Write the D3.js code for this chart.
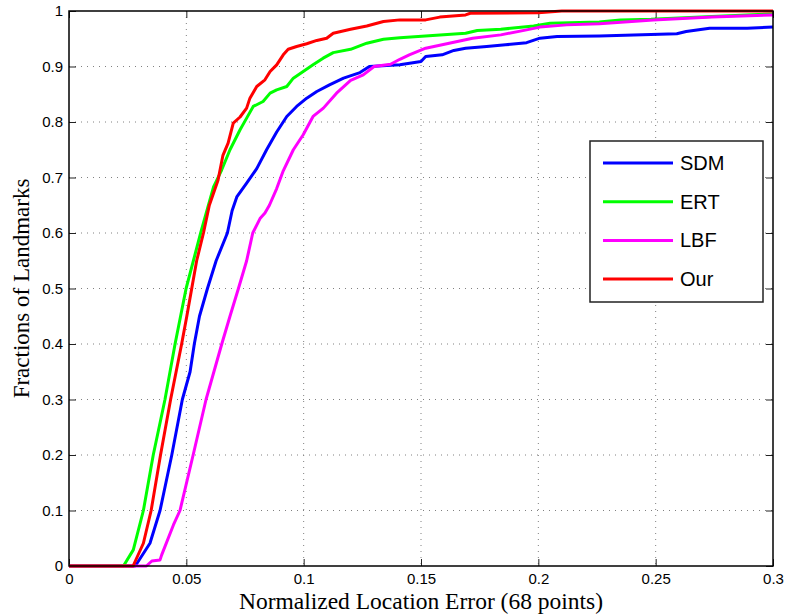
<!DOCTYPE html>
<html>
<head>
<meta charset="utf-8">
<script src="https://cdn.jsdelivr.net/npm/d3@7"></script>
<style>
  body { margin: 0; background: #fff; }
  svg { display: block; }
</style>
</head>
<body>
<svg id="chart"></svg>
<script>

// curves, [error, fraction]
const sdm = [
  [0, 0], [0.028, 0], [0.029, 0.005], [0.0345, 0.041], [0.0388, 0.1], [0.0438, 0.2],
  [0.0483, 0.3], [0.0516, 0.35], [0.0534, 0.4], [0.0556, 0.45], [0.059, 0.5],
  [0.0627, 0.55], [0.0675, 0.6], [0.0695, 0.64], [0.0715, 0.665], [0.0757, 0.69],
  [0.08, 0.716], [0.0842, 0.75], [0.0885, 0.782], [0.0928, 0.81], [0.097, 0.828],
  [0.1013, 0.843], [0.1056, 0.855], [0.111, 0.867], [0.117, 0.879], [0.124, 0.889],
  [0.128, 0.9], [0.141, 0.903], [0.15, 0.909], [0.152, 0.918], [0.159, 0.921],
  [0.164, 0.929], [0.169, 0.933], [0.178, 0.936], [0.186, 0.939], [0.195, 0.943],
  [0.2007, 0.951], [0.208, 0.954], [0.226, 0.955], [0.259, 0.959], [0.263, 0.963],
  [0.273, 0.969], [0.289, 0.969], [0.3, 0.971]
];

const ert = [
  [0, 0], [0.0232, 0], [0.0274, 0.029], [0.0317, 0.1], [0.0359, 0.2], [0.0409, 0.3],
  [0.0452, 0.4], [0.0499, 0.5], [0.0561, 0.6], [0.0616, 0.683], [0.065, 0.713],
  [0.0686, 0.75], [0.0729, 0.786], [0.0757, 0.807], [0.0785, 0.828], [0.0827, 0.837],
  [0.0857, 0.852], [0.0885, 0.858], [0.0928, 0.864], [0.0956, 0.879], [0.0998, 0.891],
  [0.104, 0.903], [0.1083, 0.915], [0.1126, 0.925], [0.12, 0.931], [0.1269, 0.942],
  [0.134, 0.949], [0.141, 0.952], [0.169, 0.96], [0.174, 0.965], [0.184, 0.967],
  [0.198, 0.973], [0.205, 0.978], [0.226, 0.98], [0.235, 0.984], [0.248, 0.985],
  [0.274, 0.99], [0.3, 0.995]
];

const lbf = [
  [0, 0], [0.033, 0], [0.0353, 0.009], [0.0388, 0.011], [0.0395, 0.02], [0.0445, 0.074],
  [0.0473, 0.1], [0.0529, 0.2], [0.0584, 0.3], [0.0651, 0.4], [0.0686, 0.45],
  [0.0722, 0.5], [0.0757, 0.55], [0.0783, 0.6], [0.0814, 0.626], [0.0835, 0.636],
  [0.0854, 0.65], [0.0885, 0.68], [0.0913, 0.712], [0.0956, 0.75], [0.0998, 0.777],
  [0.104, 0.81], [0.1084, 0.825], [0.114, 0.852], [0.12, 0.875], [0.1254, 0.885],
  [0.13, 0.9], [0.137, 0.904], [0.141, 0.913], [0.145, 0.921], [0.152, 0.933],
  [0.162, 0.942], [0.172, 0.951], [0.184, 0.957], [0.195, 0.966], [0.2007, 0.971],
  [0.212, 0.975], [0.226, 0.977], [0.249, 0.984], [0.274, 0.989], [0.3, 0.993]
];

const our = [
  [0, 0], [0.0273, 0], [0.0317, 0.041], [0.035, 0.1], [0.039, 0.2], [0.0433, 0.3],
  [0.048, 0.4], [0.0502, 0.45], [0.0523, 0.5], [0.0544, 0.55], [0.0573, 0.6],
  [0.0598, 0.65], [0.0635, 0.695], [0.0656, 0.74], [0.0678, 0.762], [0.07, 0.798],
  [0.0729, 0.809], [0.0757, 0.825], [0.0771, 0.843], [0.08, 0.864], [0.0835, 0.876],
  [0.0857, 0.891], [0.0885, 0.903], [0.0913, 0.921], [0.0934, 0.931], [0.097, 0.936],
  [0.1013, 0.941], [0.1056, 0.947], [0.1098, 0.951], [0.1126, 0.96], [0.12, 0.967],
  [0.1269, 0.973], [0.134, 0.981], [0.141, 0.984], [0.152, 0.984], [0.158, 0.989],
  [0.169, 0.993], [0.171, 0.996], [0.2, 0.997], [0.21, 1], [0.3, 1]
];

const seriesNames = ['SDM', 'ERT', 'LBF', 'Our'];
const seriesColors = ['#0000ff', '#00ff00', '#ff00ff', '#ff0000'];
const seriesData = [sdm, ert, lbf, our];

const xTicks = [0, 0.05, 0.1, 0.15, 0.2, 0.25, 0.3];
const yTicks = [0, 0.1, 0.2, 0.3, 0.4, 0.5, 0.6, 0.7, 0.8, 0.9, 1];

init();

function init() {
    const W = 787, H = 615;
    const left = 69, right = 773, top = 11, bottom = 566;

    const svg = d3.select('#chart').attr('width', W).attr('height', H);

    const x = d3.scaleLinear().domain([0, 0.3]).range([left, right]);
    const y = d3.scaleLinear().domain([0, 1]).range([bottom, top]);
    const fmt = d => String(d);

    // dotted grid
    const grid = svg.append('g');
    xTicks.slice(1, -1).forEach(d => {
        grid.append('line')
            .attr('x1', x(d)).attr('x2', x(d))
            .attr('y1', top).attr('y2', bottom)
            .attr('stroke', '#808080').attr('stroke-width', 1)
            .attr('stroke-dasharray', '1,5');
    });
    yTicks.slice(1, -1).forEach(d => {
        grid.append('line')
            .attr('x1', left).attr('x2', right)
            .attr('y1', y(d)).attr('y2', y(d))
            .attr('stroke', '#808080').attr('stroke-width', 1)
            .attr('stroke-dasharray', '1,5');
    });

    // axes, ticks pointing inward on all four sides
    const tick = 7;
    const xB = svg.append('g').attr('transform', 'translate(0,' + bottom + ')')
        .call(d3.axisBottom(x).tickValues(xTicks).tickFormat(fmt).tickSizeInner(-tick).tickSizeOuter(0).tickPadding(7));
    const yL = svg.append('g').attr('transform', 'translate(' + left + ',0)')
        .call(d3.axisLeft(y).tickValues(yTicks).tickFormat(fmt).tickSizeInner(-tick).tickSizeOuter(0).tickPadding(6));
    const xT = svg.append('g').attr('transform', 'translate(0,' + top + ')')
        .call(d3.axisTop(x).tickValues(xTicks).tickFormat('').tickSizeInner(-tick).tickSizeOuter(0));
    const yR = svg.append('g').attr('transform', 'translate(' + right + ',0)')
        .call(d3.axisRight(y).tickValues(yTicks).tickFormat('').tickSizeInner(-tick).tickSizeOuter(0));

    [xB, yL, xT, yR].forEach(g => {
        g.select('.domain').remove();
        g.selectAll('line').attr('stroke', '#222').attr('stroke-width', 1);
        g.selectAll('text')
            .attr('fill', '#000')
            .style('font-family', 'Liberation Sans, Arial, sans-serif')
            .style('font-size', '15px');
    });

    // curves
    const line = d3.line().x(d => x(d[0])).y(d => y(d[1]));
    seriesData.forEach((s, i) => {
        svg.append('path')
            .datum(s)
            .attr('fill', 'none')
            .attr('stroke', seriesColors[i])
            .attr('stroke-width', 3)
            .attr('stroke-linejoin', 'round')
            .attr('d', line);
    });

    // box
    svg.append('rect')
        .attr('x', left).attr('y', top)
        .attr('width', right - left).attr('height', bottom - top)
        .attr('fill', 'none').attr('stroke', '#000').attr('stroke-width', 1.5);

    // legend
    const lg = svg.append('g');
    lg.append('rect')
        .attr('x', 590).attr('y', 141).attr('width', 173).attr('height', 161)
        .attr('fill', '#fff').attr('stroke', '#222').attr('stroke-width', 1.5);
    seriesNames.forEach((n, i) => {
        const yy = 163 + i * 38.7;
        lg.append('line')
            .attr('x1', 603).attr('x2', 673).attr('y1', yy).attr('y2', yy)
            .attr('stroke', seriesColors[i]).attr('stroke-width', 3);
        lg.append('text')
            .attr('x', 680).attr('y', yy)
            .attr('dy', '0.35em')
            .style('font-family', 'Liberation Sans, Arial, sans-serif')
            .style('font-size', '20px')
            .text(n);
    });

    // axis titles
    svg.append('text')
        .attr('x', (left + right) / 2).attr('y', 609)
        .attr('text-anchor', 'middle')
        .style('font-family', 'Liberation Serif, Times New Roman, serif')
        .style('font-size', '23.5px')
        .text('Normalized Location Error (68 points)');

    svg.append('text')
        .attr('transform', 'translate(29,' + ((top + bottom) / 2) + ') rotate(-90)')
        .attr('text-anchor', 'middle')
        .style('font-family', 'Liberation Serif, Times New Roman, serif')
        .style('font-size', '23px')
        .text('Fractions of Landmarks');
}
</script>
</body>
</html>
